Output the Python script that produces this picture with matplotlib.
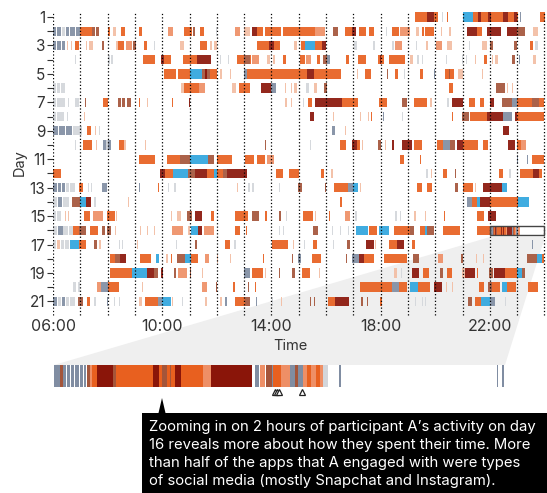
import matplotlib
matplotlib.use("Agg")
import matplotlib.pyplot as plt
from matplotlib.patches import Polygon, Rectangle

plt.rcParams['font.family'] = ['Inter', 'DejaVu Sans']

# o orange, d dark red, b blue, g grey-blue, l light grey, p pale orange, s salmon, m brown
colours = {'o': '#E8601F', 'd': '#8A1509', 'b': '#2FA5DE', 'g': '#808DA2',
           'l': '#D3D6DB', 'p': '#F3BDA3', 's': '#EE8F66', 'm': '#A4553A'}

day01 = [(19.27,19.7,'o'),(19.7,19.94,'d'),(19.94,20.12,'o'),(20.42,20.48,'o'),(20.25,20.3,'l'),
         (21.0,21.4,'b'),(21.4,21.55,'o'),(21.55,21.67,'d'),(21.67,21.95,'o'),(21.95,22.04,'d'),
         (22.04,22.5,'o'),(22.5,22.65,'d'),(22.65,22.87,'o'),(22.87,23.01,'d'),(23.01,23.05,'o'),
         (23.11,23.16,'g'),(23.84,24.02,'o')]
day02 = [(6.0,6.12,'g'),(6.15,6.3,'g'),(6.33,6.45,'l'),(6.48,6.6,'g'),(6.63,6.8,'g'),(6.83,7.0,'g'),
         (7.0,7.42,'o'),(7.42,7.53,'m'),(7.56,7.7,'m'),(8.0,8.1,'o'),(8.2,8.3,'p'),(8.5,8.63,'o'),
         (9.15,9.25,'o'),(10.2,10.4,'s'),(10.8,11.1,'o'),(11.12,11.2,'m'),(11.38,11.53,'o'),(11.98,12.02,'l'),
         (12.65,12.85,'s'),(13.0,13.2,'p'),(13.28,13.47,'d'),(13.47,13.7,'o'),(13.78,14.35,'o'),
         (14.43,15.6,'o'),(15.6,15.97,'s'),(16.25,16.45,'m'),(16.7,16.95,'o'),(16.95,17.1,'d'),(17.2,17.48,'o'),
         (17.56,17.77,'o'),(18.18,18.22,'l'),(18.42,18.66,'o'),(18.7,19.08,'s'),(19.28,19.4,'p'),(19.52,19.6,'o'),
         (19.64,19.95,'o'),(20.22,20.26,'p'),(20.52,20.58,'p'),(21.16,21.53,'d'),(21.53,21.72,'o'),
         (21.9,22.1,'d'),(22.1,22.4,'d'),(22.62,22.99,'d'),(23.0,23.3,'m'),(23.6,23.75,'p')]
day03 = [(6.0,6.12,'g'),(6.15,6.3,'g'),(6.32,6.45,'g'),(6.5,6.55,'p'),(6.66,6.7,'p'),(6.8,6.94,'o'),
         (7.22,7.25,'p'),(7.33,7.47,'p'),(7.79,7.87,'m'),(8.29,8.39,'p'),(8.39,8.6,'o'),(8.67,8.88,'s'),
         (8.94,9.04,'m'),(9.34,9.45,'o'),(9.7,9.74,'l'),(10.65,10.8,'p'),(11.39,11.65,'o'),(11.76,11.84,'p'),
         (11.9,12.02,'p'),(13.49,13.93,'o'),(13.93,14.1,'d'),(14.1,14.33,'o'),(14.84,14.94,'p'),(15.08,15.24,'o'),
         (15.24,15.6,'b'),(15.6,15.85,'o'),(15.85,16.0,'d'),(17.04,17.13,'l'),(17.72,17.8,'l'),(18.41,18.5,'l'),
         (18.54,18.78,'s'),(19.28,19.33,'l'),(19.68,19.75,'p'),(20.04,20.24,'s'),(20.43,20.6,'p'),(21.23,21.27,'l'),
         (21.7,21.9,'p'),(22.0,22.13,'m'),(22.9,23.0,'m'),(23.48,23.6,'o'),(23.66,23.78,'l')]
day04 = [(6.79,6.83,'l'),(8.0,8.08,'l'),(8.14,8.2,'l'),(9.3,9.73,'o'),(9.95,10.05,'d'),(10.05,10.33,'o'),
         (10.77,11.26,'o'),(11.29,11.53,'d'),(11.53,11.78,'d'),(12.13,12.17,'l'),(12.41,12.45,'l'),(12.75,13.0,'o'),
         (13.0,13.2,'m'),(13.2,13.25,'o'),(13.28,13.53,'s'),(13.83,13.96,'p'),(14.05,14.12,'p'),(14.43,14.55,'o'),
         (15.06,15.22,'o'),(15.28,15.45,'s'),(15.67,15.77,'o'),(15.9,16.04,'m'),(16.04,16.13,'g'),(16.72,16.83,'o'),
         (17.16,17.45,'o'),(17.89,18.11,'o'),(17.97,18.0,'d'),(18.32,18.9,'o'),(19.08,19.2,'p'),(19.33,19.42,'l'),
         (19.5,19.57,'l'),(20.38,20.42,'l'),(20.98,21.03,'l'),(21.12,21.16,'l'),(21.44,21.48,'p'),(21.77,21.9,'o'),
         (22.08,22.12,'p'),(22.2,22.3,'p'),(22.8,22.93,'m'),(23.08,23.12,'g'),(23.6,23.7,'p')]
day05 = [(10.06,10.49,'o'),(10.59,11.0,'o'),(11.0,11.45,'b'),(11.45,11.75,'m'),(11.55,11.65,'d'),(11.75,12.0,'o'),
         (12.1,12.2,'p'),(12.48,12.52,'p'),(13.01,13.1,'g'),(13.1,15.3,'o'),(15.3,15.55,'d'),(15.55,16.55,'o'),
         (17.14,17.18,'p'),(17.44,17.65,'o'),(18.23,18.27,'m'),(18.53,18.62,'o'),(18.86,18.9,'l'),(19.45,19.54,'o'),
         (19.96,20.0,'g'),(20.37,20.7,'o'),(20.5,20.53,'m'),(20.85,21.03,'p'),(21.72,21.76,'p')]
day06 = [(6.0,6.1,'l'),(6.13,6.25,'l'),(6.28,6.45,'l'),(10.69,10.8,'p'),(10.8,11.35,'o'),(11.35,11.55,'s'),
         (12.57,12.7,'p'),(12.83,13.22,'o'),(13.63,13.98,'d'),(13.98,14.18,'g'),(14.48,14.52,'p'),(14.7,14.76,'p'),
         (14.83,14.92,'p'),(15.25,15.36,'l'),(15.55,15.68,'p'),(15.94,16.04,'m'),(20.49,20.65,'o'),(22.23,22.56,'m'),
         (22.64,22.68,'p'),(22.8,22.84,'p')]
day07 = [(6.0,6.12,'l'),(6.15,6.28,'l'),(6.3,6.43,'l'),(6.56,6.6,'l'),(6.8,6.95,'l'),(7.17,7.21,'m'),(7.84,8.02,'o'),
         (8.39,8.5,'m'),(8.53,8.63,'m'),(8.72,8.84,'m'),(9.16,9.2,'o'),(9.43,9.47,'p'),(10.35,10.39,'o'),(10.98,11.02,'d'),
         (14.5,14.56,'p'),(14.7,14.76,'p'),(15.15,15.2,'l'),(15.33,15.49,'o'),(15.61,16.59,'d'),(16.59,17.16,'o'),
         (17.93,18.23,'o'),(18.78,18.96,'m'),(19.24,19.7,'o'),(19.82,19.87,'p'),(20.45,20.5,'l'),(20.61,21.0,'d'),
         (21.22,21.46,'o'),(21.65,21.77,'o'),(22.0,22.15,'d'),(22.44,22.8,'m'),(22.8,23.0,'g'),(23.0,23.55,'o'),
         (23.55,23.8,'m'),(23.8,24.0,'o')]
day08 = [(6.0,6.12,'l'),(6.15,6.28,'l'),(6.31,6.4,'l'),(6.5,6.55,'l'),(7.14,7.18,'p'),(15.43,15.55,'d'),(16.24,16.28,'p'),
         (17.24,17.28,'p'),(17.54,17.58,'p'),(17.64,17.68,'o'),(18.09,18.13,'g'),(18.73,18.76,'l'),(18.8,18.83,'l'),
         (20.6,20.66,'o'),(20.98,21.24,'m'),(21.28,21.89,'o'),(21.89,22.07,'d'),(22.07,22.5,'d'),(22.5,22.8,'g'),
         (22.93,23.0,'d'),(23.0,24.0,'o')]
day09 = [(6.0,6.2,'g'),(6.23,6.45,'g'),(6.48,6.7,'g'),(6.73,6.9,'l'),(6.9,7.05,'l'),(7.25,7.4,'o'),(7.53,7.58,'p'),
         (7.68,7.72,'l'),(16.22,16.34,'g'),(16.68,16.72,'p'),(22.5,22.72,'d')]
day10 = [(6.81,6.85,'l'),(7.1,7.43,'o'),(7.58,7.62,'p'),(7.84,8.14,'g'),(7.95,8.02,'l'),(8.42,8.6,'o'),(8.6,8.69,'p'),
         (9.38,9.42,'p'),(13.78,13.82,'m'),(15.41,15.45,'l'),(16.52,16.73,'o'),(16.95,17.15,'d'),(17.15,17.26,'o'),
         (17.33,17.37,'p'),(17.9,18.0,'m'),(18.15,18.19,'p'),(18.4,18.5,'d'),(18.8,19.15,'d'),(19.23,19.51,'o'),
         (20.06,20.3,'o'),(20.3,20.55,'g'),(20.55,20.72,'m'),(20.8,21.02,'d'),(21.02,21.58,'o'),(21.74,21.95,'o'),
         (22.65,22.93,'d'),(23.0,23.15,'o'),(23.15,23.33,'s')]
day11 = [(9.16,9.73,'o'),(10.16,10.65,'o'),(10.65,11.0,'m'),(11.0,11.69,'b'),(11.69,11.88,'m'),(12.0,12.55,'o'),
         (13.04,13.35,'o'),(13.47,13.78,'o'),(13.83,14.08,'s'),(18.72,18.84,'o'),(19.43,19.47,'o'),(22.98,23.02,'g'),
         (23.37,23.41,'g'),(23.54,24.0,'o')]
day12 = [(6.0,6.3,'o'),(9.92,10.1,'d'),(10.1,10.22,'o'),(10.22,10.4,'o'),(10.4,10.96,'b'),(10.96,11.2,'m'),(11.2,11.63,'d'),
         (11.63,11.88,'o'),(11.88,12.02,'b'),(12.02,12.24,'o'),(12.24,12.37,'m'),(12.37,13.1,'d'),(14.18,14.43,'o'),
         (14.64,15.0,'o'),(15.82,15.94,'o'),(16.2,16.24,'p'),(19.65,19.72,'l'),(19.85,19.9,'p'),(20.3,20.43,'o'),
         (20.73,20.77,'m'),(22.35,22.5,'o'),(22.72,22.76,'l'),(23.09,23.6,'o'),(23.6,23.82,'d'),(23.82,23.9,'o')]
day13 = [(6.0,6.15,'g'),(6.18,6.3,'g'),(6.33,6.45,'g'),(6.48,6.6,'l'),(6.63,6.8,'l'),(6.95,7.1,'o'),(7.28,7.32,'l'),
         (7.4,7.44,'l'),(7.81,7.98,'g'),(9.16,9.2,'g'),(9.84,9.88,'o'),(10.2,10.24,'l'),(10.45,10.49,'l'),(12.73,12.77,'p'),
         (13.16,13.2,'l'),(13.3,13.35,'l'),(14.28,14.32,'l'),(14.96,15.12,'m'),(15.96,16.0,'m'),(16.3,16.8,'o'),(16.8,17.0,'g'),
         (17.0,17.16,'b'),(17.23,17.27,'p'),(19.35,19.51,'o'),(19.7,19.9,'o'),(20.73,20.85,'m'),(21.0,21.4,'o'),(21.45,21.5,'p'),
         (21.74,22.0,'d'),(22.0,22.44,'d'),(22.44,22.62,'b')]
day14 = [(6.0,6.15,'l'),(6.18,6.32,'g'),(6.35,6.6,'l'),(6.7,6.98,'m'),(6.98,7.2,'b'),(7.2,7.4,'d'),(7.52,7.56,'l'),
         (8.73,8.77,'p'),(16.53,16.57,'o'),(21.16,21.34,'g'),(21.34,21.53,'o'),(21.53,21.65,'b'),(21.65,22.0,'d'),
         (22.0,23.05,'o'),(23.05,23.45,'b')]
day15 = [(6.0,6.12,'l'),(6.15,6.3,'l'),(6.43,6.47,'p'),(6.55,6.59,'p'),(7.12,7.37,'o'),(7.47,7.84,'s'),(7.96,8.26,'o'),
         (8.3,8.34,'p'),(10.32,10.36,'p'),(10.53,10.7,'p'),(10.9,11.08,'m'),(11.2,11.45,'d'),(11.8,11.9,'o'),(12.67,13.16,'o'),
         (13.28,13.53,'m'),(13.77,13.83,'o'),(14.27,14.35,'m'),(14.53,14.57,'l'),(15.16,15.52,'o'),(15.58,15.62,'p'),
         (16.1,16.14,'o'),(16.71,16.87,'s'),(17.08,17.12,'l'),(18.52,18.6,'l'),(18.72,18.76,'l'),(19.24,19.28,'p'),
         (19.63,19.67,'p'),(20.31,20.35,'o'),(21.52,21.77,'o'),(21.95,22.22,'d')]
day16_start = [(6.0,6.15,'l'),(6.18,6.35,'g'),(6.38,6.55,'l'),(6.58,6.73,'l'),(6.73,6.95,'o'),(6.95,7.2,'m'),(7.37,7.65,'o'),
         (7.8,7.9,'m'),(7.98,8.14,'m'),(8.26,8.3,'p'),(9.2,9.24,'p'),(9.45,9.49,'p'),(9.7,9.74,'p'),(10.35,10.77,'s'),
         (10.95,11.0,'p'),(11.04,11.32,'b'),(11.32,11.47,'d'),(11.53,11.88,'s'),(12.67,12.85,'o'),(13.08,13.12,'o'),
         (14.27,14.31,'l'),(14.42,14.46,'l'),(15.52,15.7,'m'),(16.21,16.25,'l'),(16.52,16.56,'l'),(16.8,16.84,'l'),
         (17.11,17.54,'b'),(17.59,17.87,'o'),(17.93,18.29,'b'),(18.48,19.08,'o'),(19.08,19.23,'m'),(19.45,19.63,'o'),
         (19.63,19.7,'b'),(19.7,19.94,'m'),(20.3,20.92,'o'),(21.52,21.99,'o')]
day17 = [(6.0,6.1,'l'),(6.13,6.25,'p'),(6.28,6.4,'l'),(6.43,6.6,'l'),(6.64,6.94,'b'),(6.94,7.22,'o'),(7.49,7.6,'m'),
         (7.7,7.75,'p'),(8.43,8.47,'l'),(8.52,8.56,'l'),(9.07,9.11,'p'),(10.5,10.54,'l'),(11.2,11.29,'m'),(12.3,12.49,'o'),
         (12.64,12.72,'l'),(14.02,14.6,'o'),(14.78,14.82,'p'),(15.2,15.24,'l'),(15.51,15.67,'o'),(16.25,16.29,'l'),
         (16.77,16.87,'m'),(17.48,17.74,'d'),(17.8,17.84,'p'),(18.02,18.06,'l'),(18.29,18.6,'o'),(18.6,18.84,'d'),
         (19.15,19.25,'o'),(23.55,23.59,'g')]
day18 = [(8.08,8.26,'o'),(8.26,8.47,'m'),(8.47,8.69,'d'),(9.18,9.59,'o'),(9.77,9.89,'b'),(10.15,10.2,'p'),(10.33,10.37,'o'),
         (10.53,10.83,'m'),(10.83,11.04,'b'),(11.04,11.3,'o'),(11.57,11.73,'s'),(12.0,12.04,'p'),(12.48,12.52,'p'),
         (13.69,13.73,'o'),(14.74,14.78,'m'),(14.96,15.09,'g'),(15.49,15.8,'o'),(16.72,16.76,'m'),(16.95,17.2,'g'),
         (17.2,17.38,'d'),(17.38,17.74,'o'),(18.11,18.96,'o'),(19.2,19.41,'m'),(20.1,20.3,'s'),(20.96,21.0,'m'),
         (21.5,21.54,'p'),(21.76,21.8,'p'),(23.35,23.72,'m'),(23.72,23.9,'b'),(23.9,24.0,'o')]
day19 = [(8.08,8.88,'o'),(8.88,9.43,'b'),(9.43,9.7,'d'),(9.7,9.86,'m'),(9.94,10.02,'d'),(10.45,10.49,'m'),(10.59,10.9,'s'),
         (11.02,11.06,'m'),(11.45,11.49,'p'),(12.98,13.22,'g'),(13.28,13.71,'o'),(13.76,13.82,'p'),(14.27,14.31,'m'),
         (14.76,14.88,'m'),(15.12,15.4,'o'),(15.74,15.78,'p'),(18.5,18.6,'p'),(18.76,18.8,'l'),(19.15,19.4,'d'),(19.55,19.76,'o'),
         (20.18,20.3,'m'),(20.43,20.6,'o'),(20.98,21.1,'p'),(21.1,21.46,'d'),(21.53,21.58,'o'),(21.98,22.13,'m'),(22.16,22.56,'d'),
         (22.56,23.0,'o'),(23.0,23.17,'b'),(23.17,23.3,'m')]
day20 = [(6.73,6.85,'l'),(6.9,6.98,'l'),(7.62,7.77,'s'),(7.77,8.02,'g'),(8.02,8.42,'o'),(9.26,9.3,'p'),(11.45,11.63,'s'),
         (11.98,12.02,'m'),(12.61,12.65,'o'),(13.14,13.18,'m'),(13.41,13.45,'o'),(17.23,18.41,'o'),(18.41,18.66,'g'),
         (18.66,18.96,'o'),(19.06,19.37,'b'),(19.37,19.54,'o'),(19.57,19.8,'o'),(19.94,20.24,'d'),(20.4,20.45,'p'),
         (20.62,20.67,'p'),(21.59,21.77,'o'),(21.95,22.07,'m'),(22.07,22.38,'o'),(22.44,22.62,'b'),(22.62,22.96,'o'),
         (23.41,23.76,'o')]
day21 = [(6.0,6.15,'g'),(6.18,6.3,'l'),(6.33,6.45,'g'),(6.48,6.6,'l'),(6.63,6.8,'l'),(6.92,7.1,'m'),(7.25,7.35,'o'),(7.52,7.56,'l'),
         (7.96,8.0,'g'),(8.24,8.28,'l'),(8.4,8.44,'l'),(9.15,9.25,'p'),(9.37,9.86,'o'),(9.86,9.98,'g'),(9.98,10.31,'b'),
         (10.36,10.4,'p'),(10.74,10.78,'l'),(11.57,11.65,'p'),(12.1,12.2,'p'),(12.3,12.38,'g'),(12.67,13.04,'o'),(13.04,13.2,'m'),
         (13.45,13.49,'g'),(14.02,14.06,'l'),(14.35,14.39,'p'),(15.41,15.45,'m'),(15.55,15.59,'m'),(16.07,16.34,'o'),
         (16.34,16.83,'d'),(17.3,17.34,'m'),(17.5,17.54,'m'),(17.96,18.06,'o'),(19.27,19.31,'l'),(19.52,19.56,'l'),(19.62,19.66,'l'),
         (21.2,21.34,'m'),(21.46,21.67,'o'),(21.67,22.0,'b'),(22.0,22.2,'g'),(22.54,22.58,'l')]

# the two hours of day 16 shown in the strip, in minutes after 22:00
zoom_minutes = [(0,1.5,'g'),(1.5,2.3,'m'),(2.3,2.9,'g'),(3.1,3.9,'g'),(4.2,5,'g'),(5.2,6.2,'g'),(6.4,7.2,'g'),(7.4,7.8,'g'),
                (8.1,8.8,'m'),(8.8,9.2,'s'),(9.2,10.6,'o'),(10.6,14.4,'d'),(14.4,15.3,'m'),(15.3,24.3,'o'),(24.3,25.8,'d'),
                (25.8,26.4,'o'),(26.4,27.6,'m'),(27.6,28.3,'o'),(28.3,28.6,'m'),(28.6,29.6,'o'),(29.6,31,'d'),(31,36.6,'o'),
                (36.6,38.4,'s'),(38.4,48.6,'d'),(49.2,50.3,'g'),(50.4,51.7,'s'),(51.9,53.3,'m'),(53.3,53.7,'g'),(53.7,55.5,'o'),
                (55.5,57.8,'s'),(57.8,59,'g'),(59,59.8,'m'),(59.8,61,'g'),(61,62,'s'),(62,63,'o'),(63,64.2,'s'),(64.2,65.2,'o'),
                (65.2,65.9,'s'),(65.9,67.2,'l'),(69.8,70.2,'g'),(108.4,108.7,'g'),(109.8,110.1,'g')]
triangle_minutes = [54.2, 54.7, 55.2, 60.7]

days = [day01, day02, day03, day04, day05, day06, day07, day08, day09, day10, day11, day12, day13, day14, day15,
        day16_start, day17, day18, day19, day20, day21]
day_ticks = list(range(1, 22))
day_labels = [str(d) if d % 2 else '' for d in day_ticks]
hour_ticks = [6, 10, 14, 18, 22]
hour_labels = ['06:00', '10:00', '14:00', '18:00', '22:00']
grid_hours = list(range(6, 25))
caption = ["Zooming in on 2 hours of participant A\u2019s activity on day",
           "16 reveals more about how they spent their time. More",
           "than half of the apps that A engaged with were types",
           "of social media (mostly Snapchat and Instagram)."]

W, H = 547, 493
fig = plt.figure(figsize=(W / 100, H / 100), dpi=100)


def px_axes(x0, y0, x1, y1, **kw):
    return fig.add_axes([x0 / W, 1 - y1 / H, (x1 - x0) / W, (y1 - y0) / H], **kw)


# background layer in pixel coordinates
bg = px_axes(0, 0, W, H, zorder=0)
bg.set_xlim(0, W)
bg.set_ylim(H, 0)
bg.axis('off')
bg.add_patch(Polygon([(54, 365), (490, 237), (545, 237), (505, 365)], color='#EFEFEF', lw=0))

# main chart
ax = px_axes(53, 10, W, 316, zorder=2)
ax.patch.set_alpha(0)
ax.set_xlim(6, 6 + 494 / 27.3)
ax.set_ylim(1 + (316 - 17) / 14.22, 1 + (10 - 17) / 14.22)
for i, day in enumerate(days):
    for start, end, kind in day:
        ax.barh(i + 1, end - start, left=start, height=0.66, color=colours[kind], lw=0, alpha=0.92, zorder=2)
for start, end, kind in zoom_minutes:
    if start < 68:
        ax.barh(16, (end - start) / 60, left=22 + start / 60, height=0.66, color=colours[kind], lw=0, alpha=0.92, zorder=2)
ax.add_patch(Rectangle((22, 15.67), 2, 0.66, fill=False, ec='#444444', lw=1, zorder=4))
ax.vlines(grid_hours, ax.get_ylim()[0] - 0.1, ax.get_ylim()[1] + 0.2, color='black', lw=0.9,
          linestyles=(0, (1, 1.7)), zorder=3)
for side in ax.spines.values():
    side.set_visible(False)
ax.set_yticks(day_ticks)
ax.set_yticklabels(day_labels, fontsize=11, color='#333333')
ax.set_xticks(hour_ticks)
ax.set_xticklabels(hour_labels, fontsize=11.5, color='#333333')
ax.tick_params(axis='y', length=4, width=0.8, color='#333333', pad=1.5)
ax.tick_params(axis='x', length=0, pad=2)
ax.set_xlabel('Time', fontsize=10.5, color='#333333', labelpad=4, x=0.48)
ax.set_ylabel('Day', fontsize=10.5, color='#333333', labelpad=2)

# zoomed strip
strip = px_axes(54, 365, 544, 398, zorder=3)
strip.set_xlim(0, 120)
strip.set_ylim(33, 0)
strip.axis('off')
for start, end, kind in zoom_minutes:
    strip.barh(11, end - start, left=start, height=22, color=colours[kind], lw=0)
strip.plot(triangle_minutes, [27] * len(triangle_minutes), ls='none', marker='^', ms=5,
           mfc='white', mec='#222222', mew=0.9)

# callout
top = px_axes(0, 0, W, H, zorder=4)
top.set_xlim(0, W)
top.set_ylim(H, 0)
top.axis('off')
top.add_patch(Rectangle((142, 413), W - 142, H - 413, color='black', lw=0))
top.add_patch(Polygon([(158.5, 413), (162, 398), (165.5, 413)], color='black', lw=0))
for line, y in zip(caption, [427, 445, 463, 481]):
    top.text(149, y, line, color='white', fontsize=10.7, va='center', ha='left')

fig.savefig('out.png', dpi=100)
